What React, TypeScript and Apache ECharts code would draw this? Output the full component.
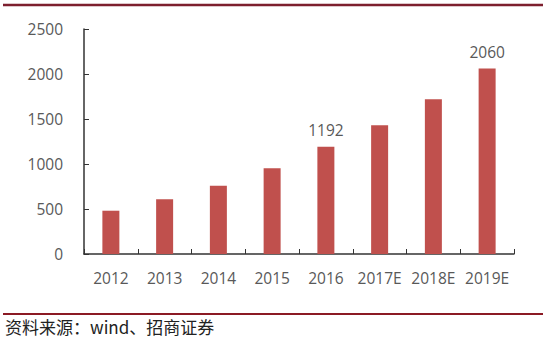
import React, { useEffect, useRef } from "react";
import * as echarts from "echarts";

const categories = ["2012", "2013", "2014", "2015", "2016", "2017E", "2018E", "2019E"];
const values = [481, 608, 759, 952, 1192, 1430, 1719, 2060];
const labeledCategories = ["2016", "2019E"];
const sourceText = "资料来源：wind、招商证券";

export default function App() {
  const ref = useRef<HTMLDivElement>(null);
  useEffect(() => {
    const chart = echarts.init(ref.current!, null, { renderer: "svg" });
    const font = "'Open Sans', 'Liberation Sans', sans-serif";
    chart.setOption({
      animation: false,
      backgroundColor: "#ffffff",
      grid: { left: 84, right: 36, top: 29, bottom: 90, containLabel: false },
      xAxis: {
        type: "category",
        data: categories,
        axisLine: { lineStyle: { color: "#333333", width: 1.5 } },
        axisTick: { show: true, inside: true, length: 5, lineStyle: { color: "#333333" } },
        axisLabel: { color: "#595959", fontSize: 15.5, fontFamily: font, margin: 16, interval: 0 },
      },
      yAxis: {
        type: "value",
        min: 0,
        max: 2500,
        interval: 500,
        splitLine: { show: false },
        axisLine: { show: true, lineStyle: { color: "#333333", width: 1.5 } },
        axisTick: { show: true, inside: true, length: 5, lineStyle: { color: "#333333" } },
        axisLabel: {
          color: "#595959",
          fontSize: 15.5,
          fontFamily: font,
          margin: 21,
          formatter: (v: number) => String(v),
        },
      },
      series: [
        {
          type: "bar",
          barWidth: 17,
          itemStyle: { color: "#C0504D" },
          data: values.map((v, i) => ({
            value: v,
            label: {
              show: labeledCategories.includes(categories[i]),
              position: "top",
              distance: 9,
              color: "#595959",
              fontSize: 15.5,
              fontFamily: font,
            },
          })),
        },
      ],
      graphic: [
        {
          type: "line",
          shape: { x1: 3, y1: 5, x2: 543, y2: 5 },
          style: { stroke: "#7d1f2e", lineWidth: 2.5 },
        },
        {
          type: "line",
          shape: { x1: 3, y1: 314, x2: 543, y2: 314 },
          style: { stroke: "#8b1a24", lineWidth: 2 },
        },
        {
          type: "text",
          left: 5,
          top: 318,
          style: {
            text: sourceText,
            fill: "#222222",
            fontSize: 17,
            fontFamily: "'Noto Sans CJK SC', sans-serif",
          },
        },
      ],
    });
    return () => chart.dispose();
  }, []);
  return <div ref={ref} style={{ width: 550, height: 344, position: "absolute", left: 0, top: 0 }} />;
}
